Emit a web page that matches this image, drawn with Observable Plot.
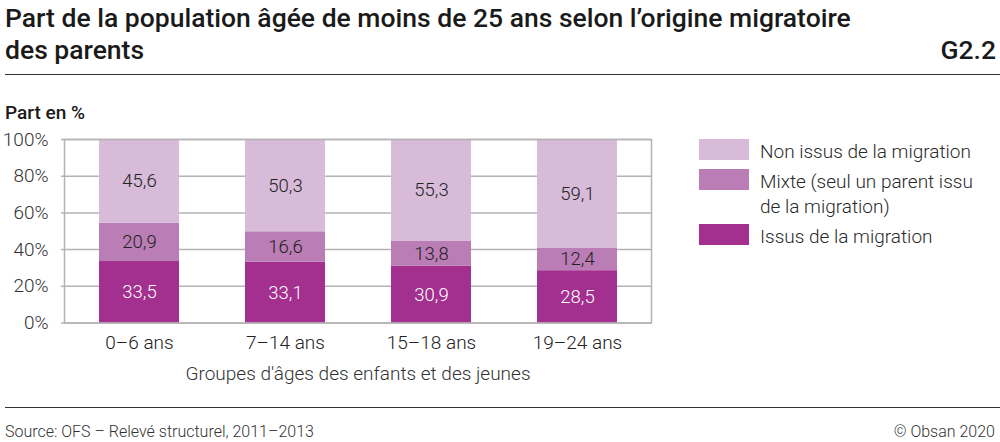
<!DOCTYPE html>
<html>
<head>
<meta charset="utf-8">
<script src="https://cdn.jsdelivr.net/npm/d3@7"></script>
<script src="https://cdn.jsdelivr.net/npm/@observablehq/plot@0.6"></script>
<style>
  html, body { margin: 0; padding: 0; background: #fff; }
  #root { position: relative; width: 1000px; height: 442px; overflow: hidden; font-family: Roboto, "Noto Sans", sans-serif; color: #222; }
  .abs { position: absolute; white-space: nowrap; }
  .title { font-size: 26.5px; font-weight: 500; color: #1a1a1a; line-height: 32px; }
  .rule { position: absolute; height: 0; border-top: 1.6px solid #333; }
  .leg-sw { position: absolute; width: 50px; height: 21px; }
  .leg-tx { position: absolute; font-size: 19px; line-height: 25px; color: #2a2a2a; font-weight: 300; }
  .foot { font-size: 16px; color: #333; line-height: 20px; font-weight: 300; }
  svg text { font-family: Roboto, "Noto Sans", sans-serif; font-weight: 300; }
</style>
</head>
<body>
<div id="root"></div>
<script>
// ---- data ----
const groups = ["0–6 ans", "7–14 ans", "15–18 ans", "19–24 ans"];
const series = ["Issus de la migration", "Mixte (seul un parent issu de la migration)", "Non issus de la migration"];
const issus = [33.5, 33.1, 30.9, 28.5];
const mixte = [20.9, 16.6, 13.8, 12.4];
const nonIssus = [45.6, 50.3, 55.3, 59.1];
const yTicks = [0, 20, 40, 60, 80, 100];
const colors = ["#a32f8f", "#bb7db5", "#d8bad9"];
const labelColors = ["#ffffff", "#222222", "#222222"];

const seriesValues = [issus, mixte, nonIssus];
const data = [];
series.forEach((s, si) => groups.forEach((g, gi) => data.push({group: g, series: s, value: seriesValues[si][gi]})));

const fmt = v => v.toFixed(1).replace(".", ",");

const root = document.getElementById("root");

// title, rules, footer
root.insertAdjacentHTML("beforeend", `
  <div class="abs title" style="left:5px; top:2px;">Part de la population âgée de moins de 25 ans selon l’origine migratoire</div>
  <div class="abs title" style="left:5px; top:34px;">des parents</div>
  <div class="abs title" style="right:4px; top:34px;">G2.2</div>
  <div class="rule" style="left:5px; width:995px; top:74px;"></div>
  <div class="abs" style="left:5px; top:101px; font-size:19px; line-height:24px; font-weight:500; color:#1a1a1a;">Part en %</div>
  <div class="rule" style="left:5px; width:995px; top:407px;"></div>
  <div class="abs foot" style="left:5px; top:422px;">Source: OFS – Relevé structurel, 2011–2013</div>
  <div class="abs foot" style="right:5px; top:422px;">© Obsan 2020</div>
`);

// legend (top to bottom: Non issus, Mixte, Issus)
const legendItems = [
  {i: 2, swTop: 139, lines: ["Non issus de la migration"], txTop: 138.5},
  {i: 1, swTop: 169, lines: ["Mixte (seul un parent issu", "de la migration)"], txTop: 168.5},
  {i: 0, swTop: 224, lines: ["Issus de la migration"], txTop: 223.5}
];
legendItems.forEach(it => {
  const sw = document.createElement("div");
  sw.className = "leg-sw";
  sw.style.left = "699px"; sw.style.top = it.swTop + "px"; sw.style.background = colors[it.i];
  root.appendChild(sw);
  it.lines.forEach((ln, k) => {
    const t = document.createElement("div");
    t.className = "leg-tx";
    t.style.left = "760px"; t.style.top = (it.txTop + k * 25) + "px";
    t.textContent = ln;
    root.appendChild(t);
  });
});

// plot
const svgTop = 120;
const plot = Plot.plot({
  width: 670,
  height: 280,
  marginLeft: 64,
  marginRight: 19,
  marginTop: 19,
  marginBottom: 77.5,
  style: {fontFamily: "Roboto, 'Noto Sans', sans-serif", fontSize: "19px", color: "#333", background: "transparent"},
  x: {domain: groups, paddingInner: 0.454, paddingOuter: 0.227, label: null},
  y: {domain: [0, 100], label: null},
  color: {domain: series, range: colors},
  marks: [
    Plot.gridY(yTicks, {stroke: "#b3b3b3", strokeOpacity: 1, strokeWidth: 1.5}),
    Plot.barY(data, Plot.stackY({order: series, x: "group", y: "value", fill: "series"})),
    Plot.text(data, Plot.stackY({
      order: series, x: "group", y: "value", text: d => fmt(d.value),
      fill: d => labelColors[series.indexOf(d.series)], fontSize: 18.5
    })),
    Plot.frame({stroke: "#b3b3b3", strokeWidth: 1.5}),
    Plot.axisY(yTicks, {tickSize: 3, tickPadding: 13, tickFormat: d => d + "%", stroke: "#b3b3b3", strokeWidth: 1.5, fontSize: 19, fill: "#333", label: null}),
    Plot.axisX({tickSize: 0, tickPadding: 12, fontSize: 19, fill: "#222", label: null}),
    Plot.text(["Groupes d'âges des enfants et des jeunes"], {
      frameAnchor: "bottom", dy: 50.5, text: d => d, fontSize: 19, fill: "#333", lineAnchor: "middle"
    })
  ]
});
plot.style.position = "absolute";
plot.style.left = "0px";
plot.style.top = svgTop + "px";
plot.style.overflow = "visible";
root.appendChild(plot);
</script>
</body>
</html>
